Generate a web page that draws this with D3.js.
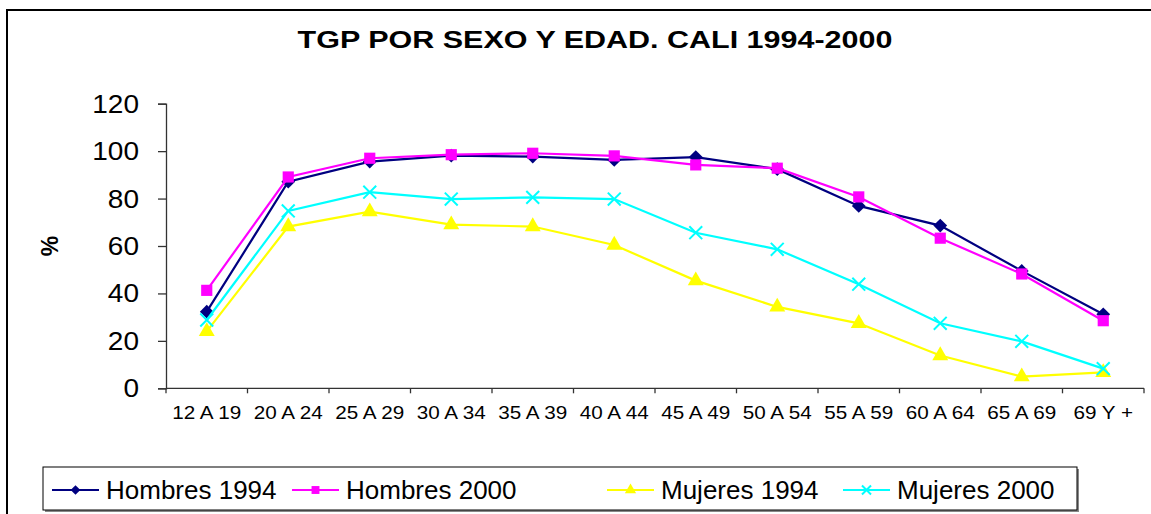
<!DOCTYPE html>
<html>
<head>
<meta charset="utf-8">
<script src="https://cdn.jsdelivr.net/npm/d3@7"></script>
<style>
  body { margin: 0; background: #fff; }
  svg { display: block; font-family: Arial, "Liberation Sans", sans-serif; }
</style>
</head>
<body>
<script>
// data
var groups = ["12 A 19", "20 A 24", "25 A 29", "30 A 34", "35 A 39", "40 A 44",
              "45 A 49", "50 A 54", "55 A 59", "60 A 64", "65 A 69", "69 Y +"];
var hombres1994 = [32.3, 87.1, 95.6, 98.1, 97.7, 96.3, 97.5, 92.4, 76.9, 68.6, 49.5, 31.2];
var hombres2000 = [41.3, 89.1, 97.0, 98.5, 99.1, 98.0, 94.2, 92.8, 80.7, 63.3, 48.2, 28.5];
var mujeres1994 = [24.0, 68.2, 74.5, 69.0, 68.2, 60.4, 45.4, 34.3, 27.4, 13.8, 4.9, 6.7];
var mujeres2000 = [28.8, 74.8, 82.7, 79.8, 80.5, 79.8, 65.6, 58.6, 43.9, 27.4, 19.8, 8.3];
var yTicks = [0, 20, 40, 60, 80, 100, 120];

var series = [
  {name: "Hombres 1994", values: hombres1994, color: "#000080", symbol: d3.symbolDiamond2, size: 120, kind: "fill"},
  {name: "Hombres 2000", values: hombres2000, color: "#ff00ff", symbol: d3.symbolSquare, size: 125, kind: "fill"},
  {name: "Mujeres 1994", values: mujeres1994, color: "#ffff00", symbol: d3.symbolTriangle, size: 110, kind: "fill"},
  {name: "Mujeres 2000", values: mujeres2000, color: "#00ffff", symbol: d3.symbolX, size: 110, kind: "stroke"}
];

var W = 1151, H = 514;
var plot = {left: 166, right: 1144, top: 103.7, bottom: 388.3};

var svg = d3.select("body").append("svg")
    .attr("width", W)
    .attr("height", H);

// outer frame
svg.append("rect")
    .attr("x", 7).attr("y", 10)
    .attr("width", 1200).attr("height", 600)
    .attr("fill", "#fff")
    .attr("stroke", "#000")
    .attr("stroke-width", 2);

// stretched text helper (the source chart is wider than it is tall)
function label(g, x, y, txt, size, anchor, sx, weight) {
  return g.append("text")
      .attr("transform", "translate(" + x + "," + y + ") scale(" + sx + ",1)")
      .attr("text-anchor", anchor)
      .attr("font-size", size)
      .attr("font-weight", weight || "normal")
      .attr("fill", "#000")
      .text(txt);
}

label(svg, 595, 48, "TGP POR SEXO Y EDAD. CALI 1994-2000", 24.5, "middle", 1.245, "bold");

// scales
var x = d3.scaleBand()
    .domain(groups)
    .range([plot.left, plot.right]);

var y = d3.scaleLinear()
    .domain([0, 120])
    .range([plot.bottom, plot.top]);

// y axis
var yAxis = svg.append("g")
    .attr("transform", "translate(" + plot.left + ",0)")
    .call(d3.axisLeft(y).tickValues(yTicks).tickSize(8).tickFormat(""));
yAxis.select(".domain").attr("stroke", "#333").attr("stroke-width", 1.3);
yAxis.selectAll(".tick line").attr("stroke", "#333").attr("stroke-width", 1.3);

yTicks.forEach(function(t) {
  label(svg, 139, y(t) + 9, t, 25, "end", 1.12);
});

// % label
svg.append("text")
    .attr("transform", "translate(58,246) rotate(-90)")
    .attr("text-anchor", "middle")
    .attr("font-size", 23)
    .attr("font-weight", "bold")
    .text("%");

// x axis, ticks between categories
var bounds = groups.map(function(g) { return x(g); }).concat([plot.right]);
var xAxis = svg.append("g")
    .attr("transform", "translate(0," + plot.bottom + ")");
xAxis.append("line")
    .attr("x1", plot.left).attr("x2", plot.right)
    .attr("stroke", "#333").attr("stroke-width", 1.3);
xAxis.selectAll("line.tk")
    .data(bounds)
    .enter().append("line")
    .attr("class", "tk")
    .attr("x1", function(d) { return d; }).attr("x2", function(d) { return d; })
    .attr("y1", 0).attr("y2", 5)
    .attr("stroke", "#333").attr("stroke-width", 1.3);

groups.forEach(function(g) {
  label(svg, x(g) + x.bandwidth() / 2, 419, g, 18.3, "middle", 1.13);
});

// lines + markers
var line = d3.line()
    .x(function(d, i) { return x(groups[i]) + x.bandwidth() / 2; })
    .y(function(d) { return y(d); });

function marker(g, s) {
  var sym = d3.symbol().type(s.symbol).size(s.size);
  var p = g.append("path").attr("d", sym);
  if (s.kind === "stroke") {
    p.attr("fill", "none").attr("stroke", s.color).attr("stroke-width", 2);
  } else {
    p.attr("fill", s.color);
  }
  return p;
}

series.forEach(function(s) {
  svg.append("path")
      .datum(s.values)
      .attr("fill", "none")
      .attr("stroke", s.color)
      .attr("stroke-width", 2.2)
      .attr("d", line);

  s.values.forEach(function(v, i) {
    var g = svg.append("g")
        .attr("transform", "translate(" + (x(groups[i]) + x.bandwidth() / 2) + "," + y(v) + ")");
    marker(g, s);
  });
});

// legend
var leg = svg.append("g");
leg.append("rect")
    .attr("x", 45).attr("y", 469)
    .attr("width", 1034).attr("height", 43)
    .attr("fill", "#888");
leg.append("rect")
    .attr("x", 43).attr("y", 467)
    .attr("width", 1034).attr("height", 43)
    .attr("fill", "#fff")
    .attr("stroke", "#000")
    .attr("stroke-width", 1);

var legX = [52, 292, 607, 843];
series.forEach(function(s, i) {
  var lx = legX[i], ly = 490;
  leg.append("line")
      .attr("x1", lx).attr("x2", lx + 47)
      .attr("y1", ly).attr("y2", ly)
      .attr("stroke", s.color)
      .attr("stroke-width", 2);
  var g = leg.append("g").attr("transform", "translate(" + (lx + 23.5) + "," + ly + ")");
  var ms = Object.assign({}, s, {size: s.size * 0.5});
  marker(g, ms);
  label(leg, lx + 54, ly + 9, s.name, 25, "start", 1.04);
});
</script>
</body>
</html>
